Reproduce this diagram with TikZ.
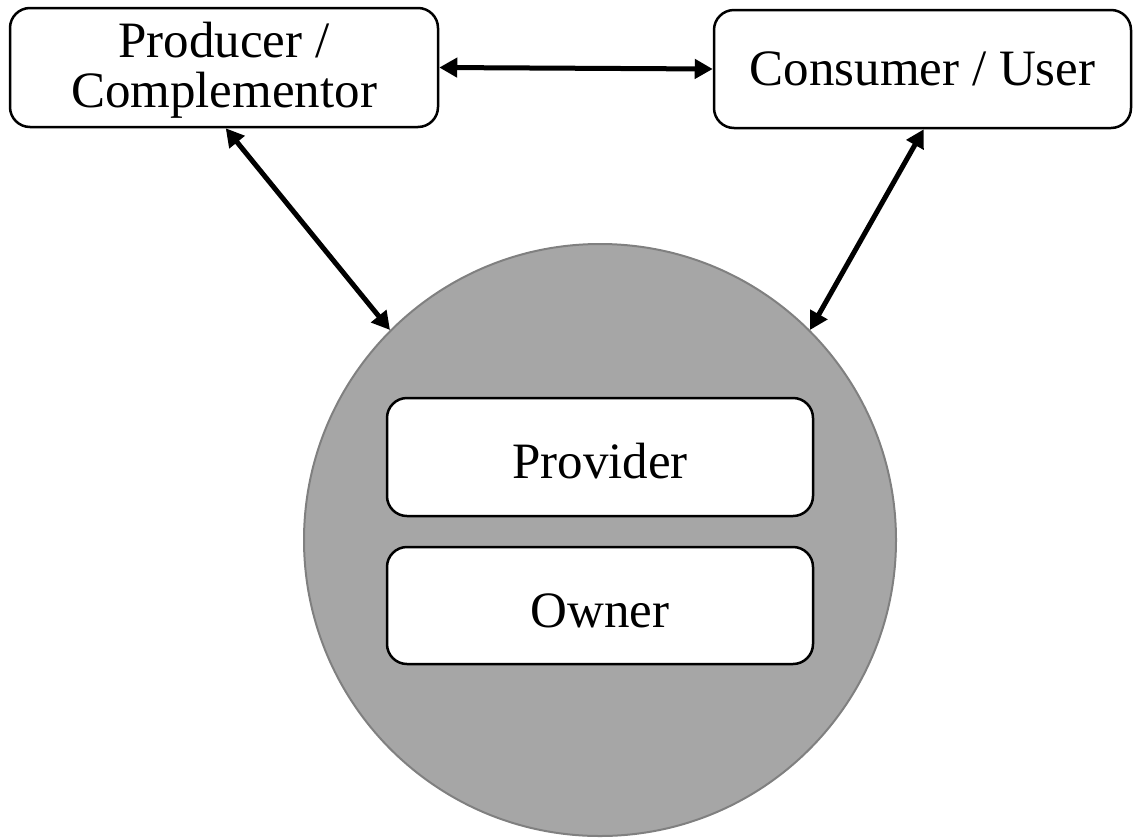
\documentclass[tikz,border=0pt]{standalone}
\usepackage{fontspec}
\setmainfont{Liberation Serif}
\usetikzlibrary{arrows.meta}
\definecolor{circfill}{HTML}{A6A6A6}
\definecolor{circline}{HTML}{808080}
\begin{document}
\begin{tikzpicture}[x=1pt,y=-1pt,
  box/.style={draw=black, line width=2.5pt, fill=white, rounded corners=20pt, inner sep=0pt, align=center,
    font=\fontsize{51}{50}\selectfont},
  dbl/.style={line width=5pt, {Triangle[length=18pt,width=19pt]}-{Triangle[length=18pt,width=19pt]}}]
\useasboundingbox (0,0) rectangle (1140,839);
\node[circle, draw=circline, line width=2pt, fill=circfill, minimum size=592pt, inner sep=0pt] (circ) at (600,540) {};
\node[box, minimum width=428pt, minimum height=119pt] (prod) at (224,67.5) {\rule{0pt}{40pt}Producer /\\Complementor};
\node[box, minimum width=417pt, minimum height=118pt] (cons) at (922.5,69) {Consumer / User};
\node[box, minimum width=426pt, minimum height=118pt, text height=42pt, text depth=0pt] (prov) at (600,457) {Provider};
\node[box, minimum width=426pt, minimum height=117pt, text height=44pt, text depth=0pt] (own) at (600,605.5) {Owner};
\draw[dbl] (prod.east) -- (cons.west);
\draw[dbl] ([xshift=217pt]prod.south west) -- (circ.135);
\draw[dbl] ([xshift=211pt]cons.south west) -- (circ.45);
\end{tikzpicture}
\end{document}
